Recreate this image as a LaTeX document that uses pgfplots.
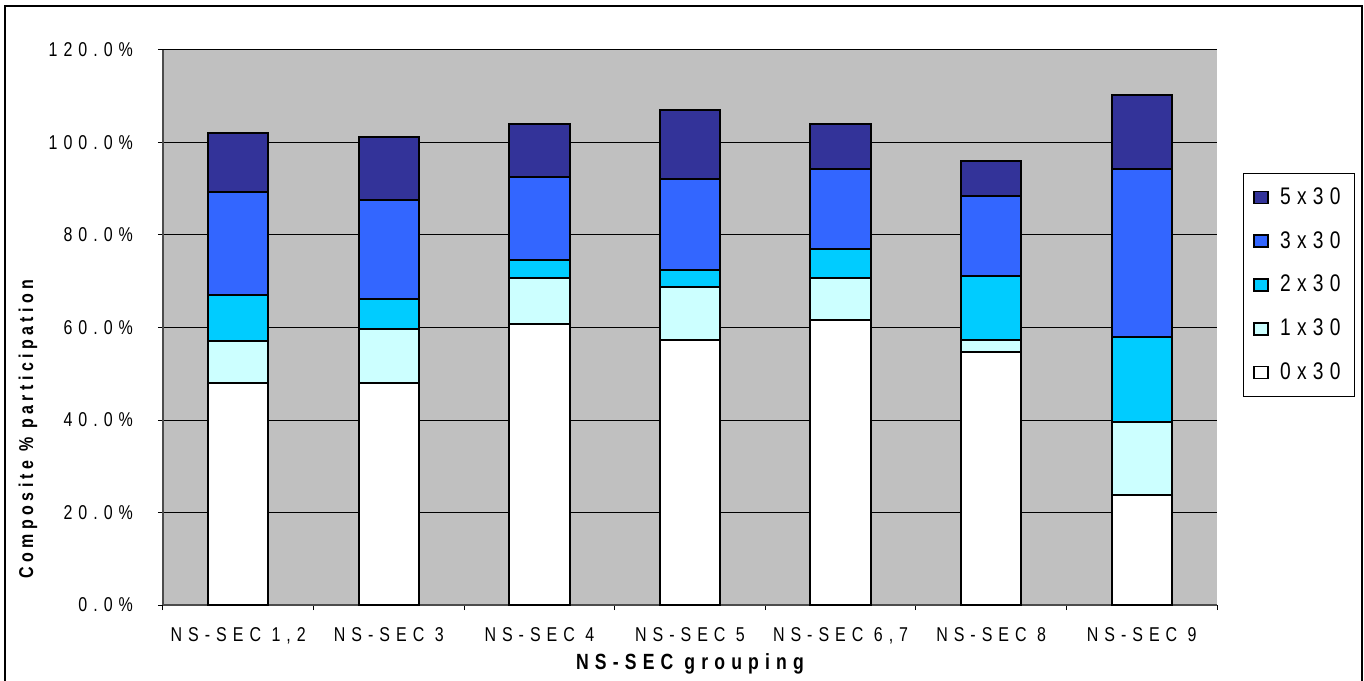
\documentclass[border=0pt]{standalone}
\usepackage{fontspec}
\setmainfont{Liberation Sans}
\newfontfamily\tickfont[FakeStretch=0.8,LetterSpace=30]{Liberation Sans}
\newfontfamily\legfont[FakeStretch=0.8,LetterSpace=26]{Liberation Sans}
\newfontfamily\labfont[FakeStretch=0.8,LetterSpace=22]{Liberation Sans}
\newfontfamily\xlabfont[FakeStretch=0.8,LetterSpace=28]{Liberation Sans}
\usepackage{pgfplots}
\usepackage{pgfplotstable}
\pgfplotsset{compat=1.18}

\definecolor{bggray}{HTML}{C0C0C0}
\definecolor{c5}{HTML}{333399}
\definecolor{c3}{HTML}{3366FF}
\definecolor{c2}{HTML}{00CCFF}
\definecolor{c1}{HTML}{CCFFFF}

% segment heights in %, bottom to top: 0x30 1x30 2x30 3x30 5x30
\pgfplotstableread{
x  a    b    c    d    e
0  47.9 9.2  9.9  22.4 12.7
1  47.9 11.8 6.4  21.5 13.5
2  60.7 9.9  4.1  17.8 11.4
3  57.4 11.4 3.6  19.6 15.0
4  61.6 9.0  6.4  17.3 9.6
5  54.6 2.8  13.7 17.3 7.7
6  23.8 15.8 18.3 36.4 16.0
}\datatable

\begin{document}
\begin{tikzpicture}
\useasboundingbox (-81.5pt,-37.5pt) rectangle (600.5pt,302.5pt);
\draw[black, line width=0.6pt] (-79pt,-60pt) rectangle (599.5pt,299.5pt);
\begin{axis}[
    scale only axis,
    width=527pt, height=277.5pt,
    ybar stacked,
    bar width=0.4,
    xmin=-0.5, xmax=6.5,
    ymin=0, ymax=120,
    axis background/.style={fill=bggray},
    axis x line*=bottom, axis y line*=left,
    axis line style={black!70, line width=0.8pt},
    tick align=outside,
    major tick length=2.5pt,
    tick style={black, line width=0.5pt},
    ytick={0,20,...,120},
    ymajorgrids,
    grid style={black, line width=0.5pt},
    /pgf/number format/assume math mode=true,
    yticklabel={\pgfmathprintnumber[fixed,fixed zerofill,precision=1]{\tick}\%},
    yticklabel style={font=\tickfont\fontsize{10}{11}\selectfont, xshift=-9pt},
    xtick={-0.5,0.5,...,6.5},
    xticklabels={},
    extra x ticks={0,1,2,3,4,5,6},
    extra x tick labels={{NS-SEC 1,2},NS-SEC 3,NS-SEC 4,NS-SEC 5,{NS-SEC 6,7},NS-SEC 8,NS-SEC 9},
    extra x tick style={major tick length=0pt, grid=none,
        xticklabel style={font=\tickfont\fontsize{10}{11}\selectfont, yshift=-7.5pt}},
    xlabel={NS-SEC grouping},
    ylabel={Composite \% participation},
    every axis x label/.style={at={(rel axis cs:0.5,0)}, anchor=base, yshift=-32pt,
        font=\xlabfont\bfseries\fontsize{11}{12}\selectfont},
    every axis y label/.style={at={([xshift=-67.5pt]rel axis cs:0,0.317)}, rotate=90, anchor=center,
        font=\labfont\bfseries\fontsize{10}{12}\selectfont},
    reverse legend,
    legend style={at={(1.0247,0.778)}, anchor=north west, draw=black, fill=white,
        font=\legfont\fontsize{12}{13}\selectfont, row sep=8pt, inner sep=5pt,
        nodes={inner sep=2pt}},
    legend cell align=left,
    legend image code/.code={\draw[#1, line width=0.8pt] (0pt,-3pt) rectangle (7pt,3pt);
        \path[draw=none, fill=none] (7pt,0pt) -- (11pt,0pt);},
    every axis plot/.append style={draw=black, line width=1pt},
]
\addplot[fill=white] table[x=x, y=a] {\datatable};
\addlegendentry{0x30}
\addplot[fill=c1] table[x=x, y=b] {\datatable};
\addlegendentry{1x30}
\addplot[fill=c2] table[x=x, y=c] {\datatable};
\addlegendentry{2x30}
\addplot[fill=c3] table[x=x, y=d] {\datatable};
\addlegendentry{3x30}
\addplot[fill=c5] table[x=x, y=e] {\datatable};
\addlegendentry{5x30}
\end{axis}
\end{tikzpicture}
\end{document}
